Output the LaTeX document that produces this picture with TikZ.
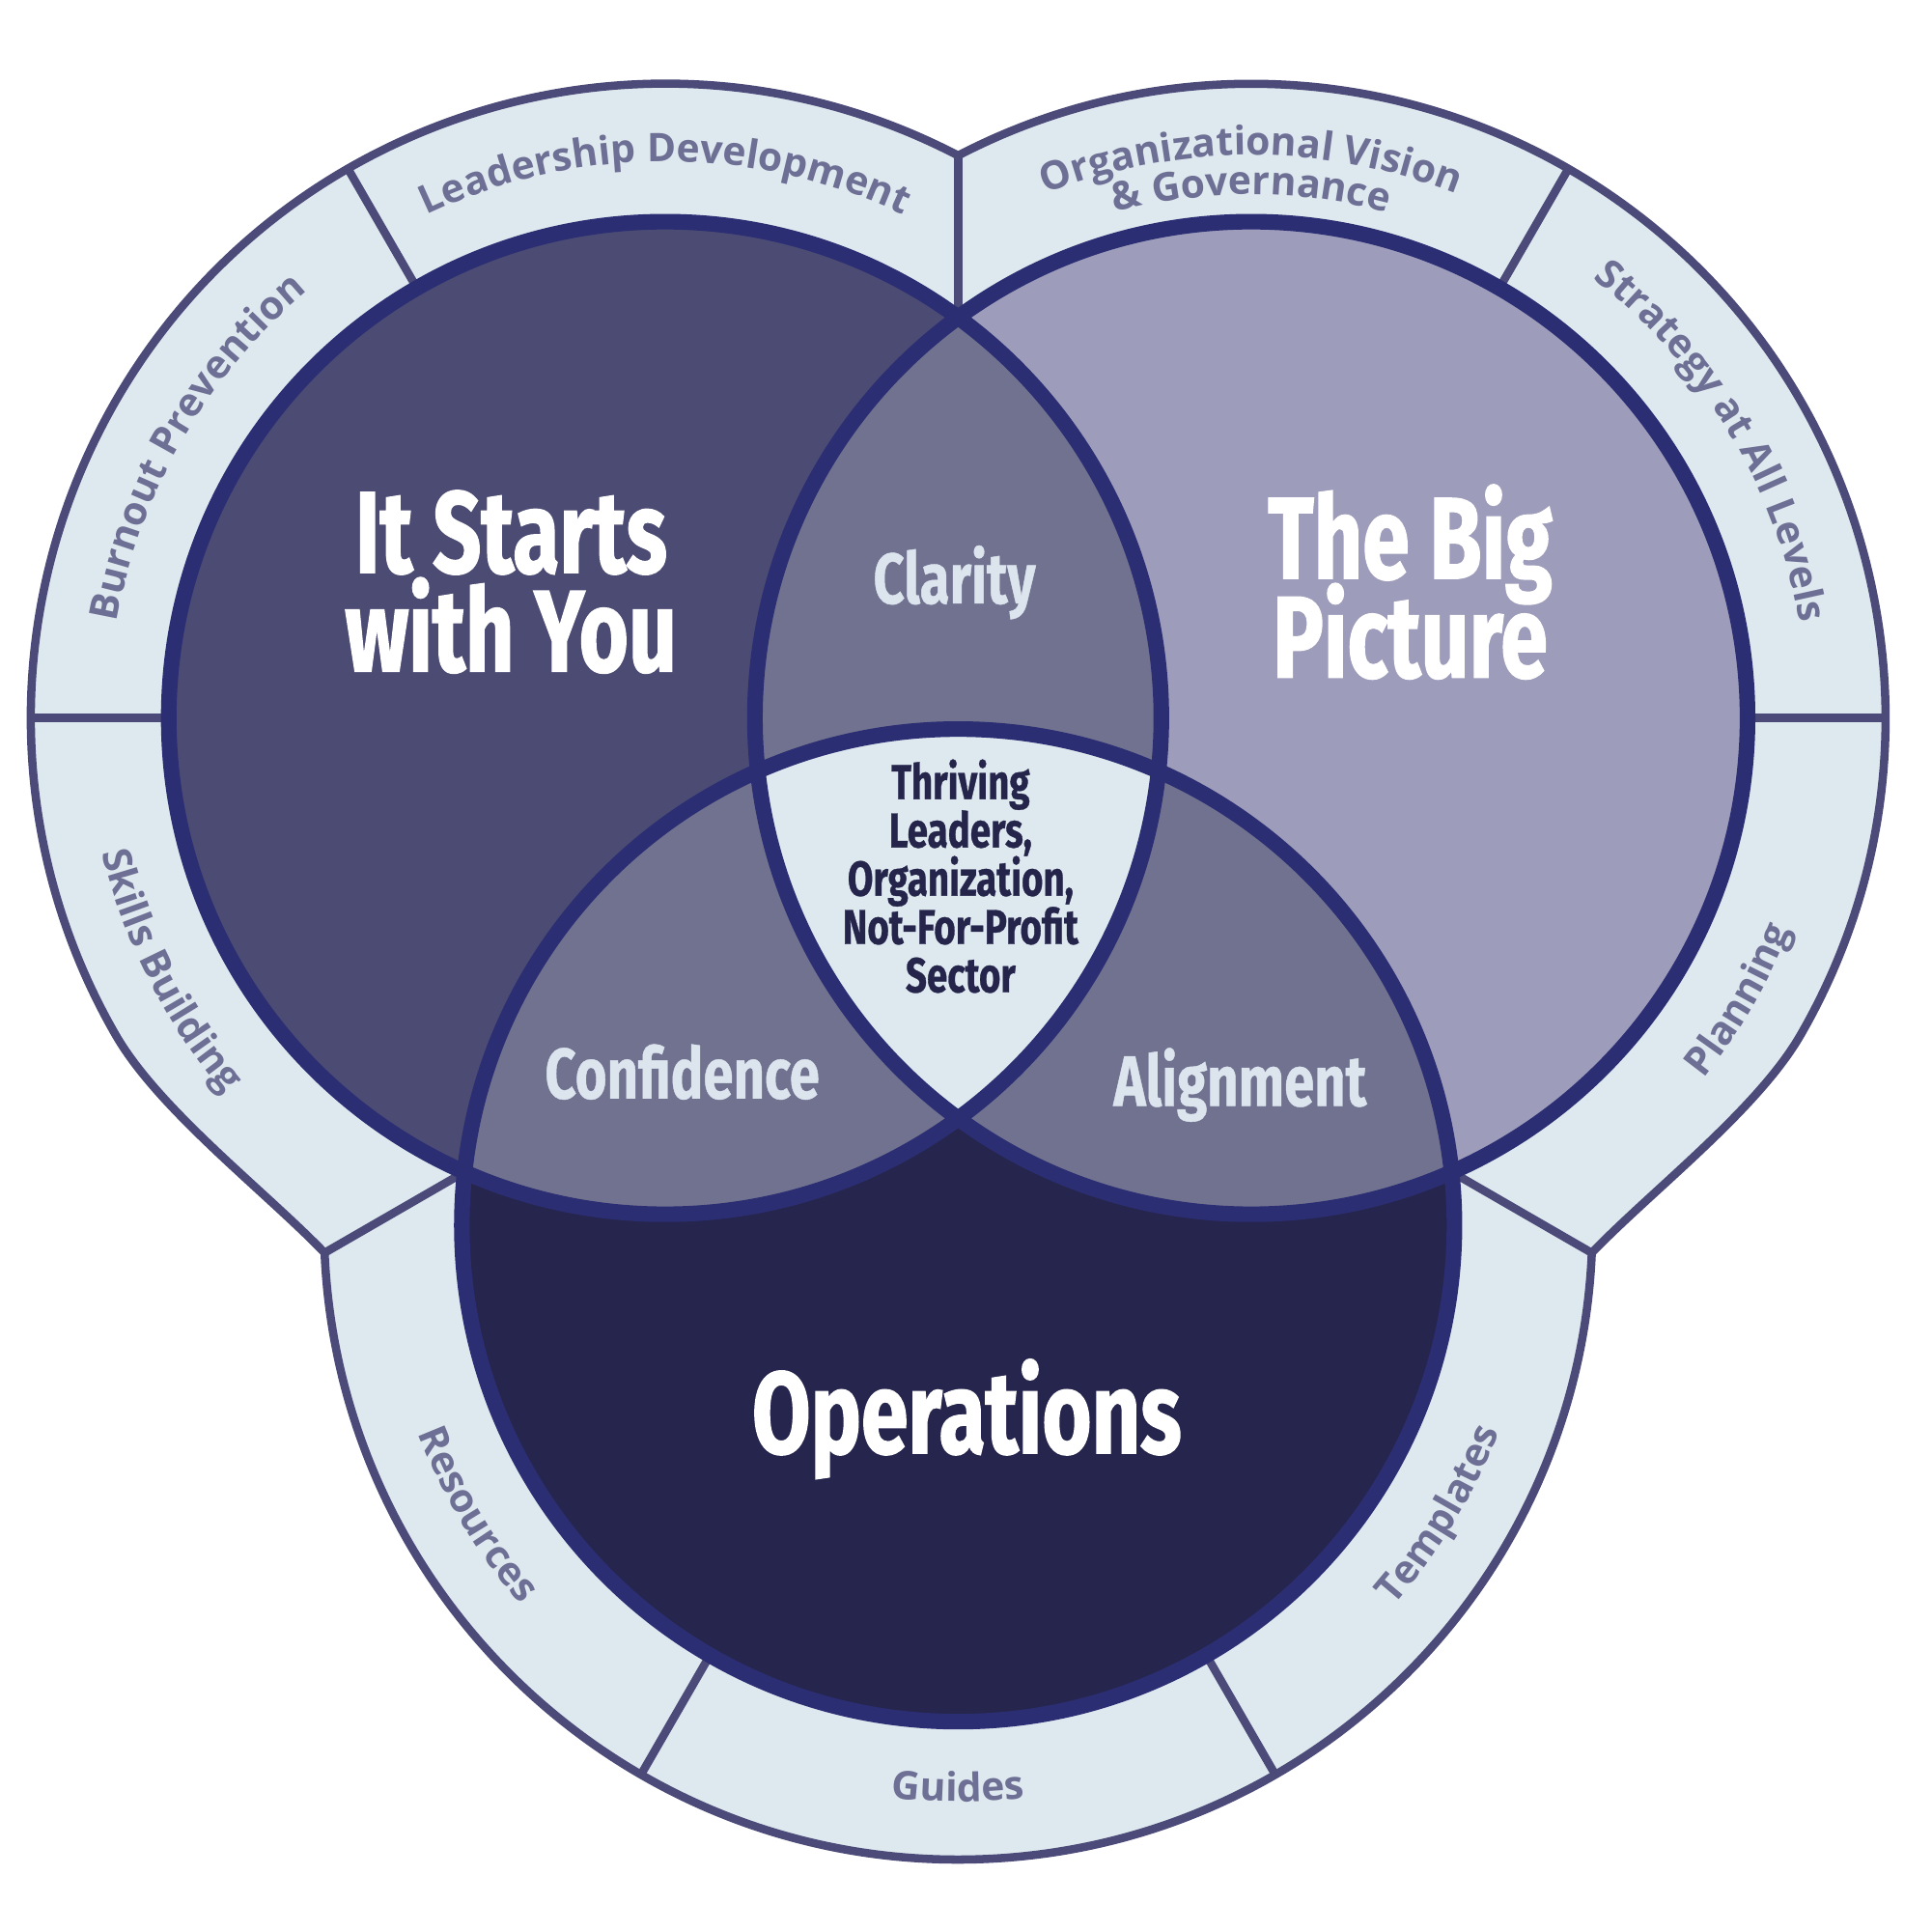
\documentclass[tikz,border=0pt]{standalone}
\usepackage{fontspec}
\usetikzlibrary{calc,decorations.text}
\newfontfamily\condf[FakeStretch=0.73,FakeBold=1.2]{Fira Sans}
\newfontfamily\condm[FakeStretch=0.76,FakeBold=0.6]{Fira Sans}
\newfontfamily\osans{Open Sans}
\newcommand\olabfont{\osans\bfseries\fontsize{9.1}{10}\selectfont}
\setlength{\lineskiplimit}{-100pt}
\definecolor{ringfill}{HTML}{DEE8EF}
\definecolor{ringline}{HTML}{4B4A78}
\definecolor{circline}{HTML}{2C2E73}
\definecolor{leftfill}{HTML}{4B4B74}
\definecolor{rightfill}{HTML}{9D9CBB}
\definecolor{botfill}{HTML}{26254D}
\definecolor{pairfill}{HTML}{717290}
\definecolor{ctrfill}{HTML}{DDE8EF}
\definecolor{labtxt}{HTML}{6E6F94}
\definecolor{innertxt}{HTML}{DCE4EE}
\definecolor{ctrtxt}{HTML}{25244B}
\tikzset{
  ringline/.style={draw=ringline, line width=1.9pt, line join=round},
  divider/.style={draw=ringline, line width=1.9pt},
  circ/.style={draw=circline, line width=3.6pt},
  bigtxt/.style={text=white, align=center, inner sep=0pt,
    font=\condf\bfseries\fontsize{26.8}{22.8}\selectfont},
  midtxt/.style={text=innertxt, inner sep=0pt,
    font=\condm\bfseries\fontsize{16.5}{18}\selectfont},
  ctrtxtstyle/.style={text=ctrtxt, align=center, inner sep=0pt,
    font=\condm\bfseries\fontsize{11.3}{11.15}\selectfont},
  olab/.style={decorate, decoration={text along path, text align=center, text color=labtxt}}
}
\begin{document}
\begin{tikzpicture}[x=0.01cm,y=0.01cm]
\useasboundingbox (0,0) rectangle (1568,1568);
% centres
\coordinate (L) at (540,985);
\coordinate (R) at (1016,985);
\coordinate (B) at (778,573);
\coordinate (C) at (778,847.7);
% junctions
\coordinate (T) at ($(C)+(90:594)$);
\coordinate (LJ) at ($(C)+(210:594)$);
\coordinate (RJ) at ($(C)+(330:594)$);
\coordinate (IT) at ($(C)+(90:462.5)$);
\coordinate (ILB) at ($(C)+(210:462.5)$);
\coordinate (IRB) at ($(C)+(330:462.5)$);
\coordinate (LA) at ($(L)+(210:515)$);
\coordinate (RA) at ($(R)+(-30:515)$);
\coordinate (LA1) at ($(LA)+(300:70)$);
\coordinate (LJ1) at ($(LJ)+(134:70)$);
\coordinate (RJ1) at ($(RJ)+(46:70)$);
\coordinate (RA1) at ($(RA)+(240:70)$);

\def\outerpath{(T) arc[start angle=62.47, end angle=210, radius=515]
  .. controls (LA1) and (LJ1) .. (LJ)
  arc[start angle=182.48, end angle=357.52, radius=515]
  .. controls (RJ1) and (RA1) .. (RA)
  arc[start angle=-30, end angle=117.53, radius=515] -- cycle}
% outer ring
\fill[ringfill] \outerpath;
% dividers
\draw[divider] (IT) -- (T);
\draw[divider] (ILB) -- (LJ);
\draw[divider] (IRB) -- (RJ);
\draw[divider] ($(L)+(120:400)$) -- ($(L)+(120:515)$);
\draw[divider] ($(L)+(180:400)$) -- ($(L)+(180:515)$);
\draw[divider] ($(R)+(60:400)$) -- ($(R)+(60:515)$);
\draw[divider] ($(R)+(0:400)$) -- ($(R)+(0:515)$);
\draw[divider] ($(B)+(240:400)$) -- ($(B)+(240:515)$);
\draw[divider] ($(B)+(300:400)$) -- ($(B)+(300:515)$);
\draw[ringline] \outerpath;

% ring labels (outward)
\path[olab, decoration={text={|\olabfont|Leadership Development}}]
  ($(L)+(140:452)$) arc[start angle=140, end angle=40, radius=452];
\path[olab, decoration={text={|\olabfont|Burnout Prevention}}]
  ($(L)+(200:452)$) arc[start angle=200, end angle=100, radius=452];
\path[olab, decoration={text={|\olabfont|Organizational Vision}}]
  ($(R)+(140:457)$) arc[start angle=140, end angle=40, radius=457];
\path[olab, decoration={text={|\olabfont|{\&} Governance}}]
  ($(R)+(140:425)$) arc[start angle=140, end angle=40, radius=425];
\path[olab, decoration={text={|\olabfont|Strategy at All Levels}}]
  ($(R)+(81:452)$) arc[start angle=81, end angle=-19, radius=452];
% ring labels (inward)
\path[olab, decoration={text={|\olabfont|Skills Building}}]
  ($(L)+(167:470)$) arc[start angle=167, end angle=247, radius=470];
\path[olab, decoration={text={|\olabfont|Planning}}]
  ($(R)+(-70:470)$) arc[start angle=-70, end angle=10, radius=470];
\path[olab, decoration={text={|\olabfont|Resources}}]
  ($(B)+(171:470)$) arc[start angle=171, end angle=251, radius=470];
\path[olab, decoration={text={|\olabfont|Guides}}]
  ($(B)+(230:468)$) arc[start angle=230, end angle=310, radius=468];
\path[olab, decoration={text={|\olabfont|Templates}}]
  ($(B)+(289:470)$) arc[start angle=289, end angle=369, radius=470];

% circles
\fill[leftfill] (L) circle[radius=403];
\fill[rightfill] (R) circle[radius=403];
\fill[botfill] (B) circle[radius=403];
\begin{scope}
  \clip (L) circle[radius=403];
  \fill[pairfill] (R) circle[radius=403];
  \fill[pairfill] (B) circle[radius=403];
\end{scope}
\begin{scope}
  \clip (R) circle[radius=403];
  \fill[pairfill] (B) circle[radius=403];
\end{scope}
\begin{scope}
  \clip (L) circle[radius=403];
  \clip (R) circle[radius=403];
  \fill[ctrfill] (B) circle[radius=403];
\end{scope}
\draw[circ] (L) circle[radius=403];
\draw[circ] (R) circle[radius=403];
\draw[circ] (B) circle[radius=403];

% texts
\node[bigtxt] (you) at (415,1095.5) {It Starts\\with You};
\node[bigtxt] (big) at (1145,1095.5) {The Big\\Picture};
\node[bigtxt, anchor=base] (ops) at (785,388) {Operations};
\node[midtxt, anchor=base] (clar) at (775,1078) {Clarity};
\node[midtxt, anchor=base] (conf) at (554,676) {Confidence};
\node[midtxt, anchor=base] (align) at (1007,670) {Alignment};
\node[ctrtxtstyle] (ctr) at (780,856.5) {Thriving\\Leaders,\\Organization,\\Not-For-Profit\\Sector};
\end{tikzpicture}
\end{document}
